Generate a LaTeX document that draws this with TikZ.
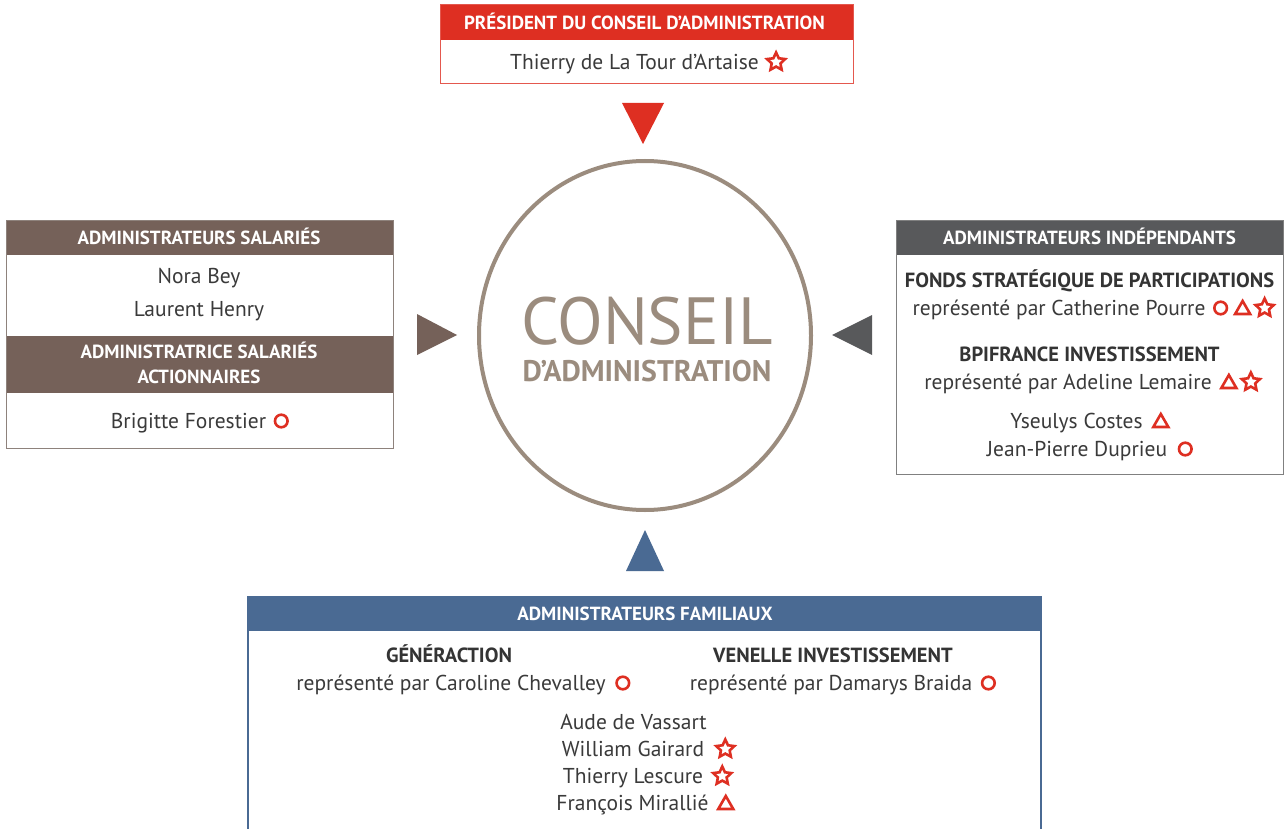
\documentclass[tikz,border=0pt]{standalone}
\usepackage{fontspec}
\setmainfont{PT Sans}
\usetikzlibrary{calc}
\definecolor{cred}{HTML}{DE2F22}
\definecolor{cbrown}{HTML}{756159}
\definecolor{cgray}{HTML}{58595B}
\definecolor{cblue}{HTML}{4A6A93}
\definecolor{ccirc}{HTML}{9B8C7E}
\definecolor{ctext}{HTML}{3A3A3A}
\definecolor{cbord}{HTML}{8E827C}
\tikzset{
  hdr/.style={font=\bfseries\fontsize{19}{21}\selectfont, text=white, inner sep=0pt, text height=13.3pt, text depth=0pt},
  nm/.style={font=\fontsize{21.5}{24}\selectfont, text=ctext, inner sep=0pt, text height=15pt, text depth=0pt},
  org/.style={font=\bfseries\fontsize{20.5}{23}\selectfont, text=ctext!90!black, inner sep=0pt, text height=14.4pt, text depth=0pt},
  sym/.style={draw=cred, line width=2.6pt, line join=miter},
  symO/.pic={\draw[sym] (0,0) circle (6.3);},
  symT/.pic={\draw[sym] (-7.5,6) -- (0,-7) -- (7.5,6) -- cycle;},
  symS/.pic={\draw[sym] (-90:9.5) -- (-54:4.6) -- (-18:9.5) -- (18:4.6) -- (54:9.5) -- (90:4.6) -- (126:9.5) -- (162:4.6) -- (198:9.5) -- (234:4.6) -- cycle;},
}
\begin{document}
\begin{tikzpicture}[x=1pt,y=-1pt]
\useasboundingbox[fill=white] (0,0) rectangle (1285,829);

% ---------- Président
\fill[cred] (440,5) rectangle (853,40);
\draw[cred!80, line width=1pt] (440,5) rectangle (853,84);
\node[hdr] (presh) at (644.5,22.5) {PRÉSIDENT DU CONSEIL D'ADMINISTRATION};
\node[nm] (pres) at (634.5,62) {Thierry de La Tour d'Artaise};
\pic at ($(pres.east)+(17,0)$) {symS};
\fill[cred] (622,103) -- (664,103) -- (643,144) -- cycle;

% ---------- Circle
\draw[ccirc, line width=4pt] (645,335.5) ellipse (166 and 174.5);
\node[font=\fontsize{66.7}{70}\selectfont, text=ccirc, inner sep=0pt, text height=46.7pt, text depth=0pt] (conseil) at (647,321) {CONSEIL};
\node[font=\bfseries\fontsize{29.8}{32}\selectfont, text=ccirc, inner sep=0pt, text height=20.9pt, text depth=0pt] (dadm) at (647,371.5) {D'ADMINISTRATION};

% ---------- Salariés
\fill[cbrown] (6,221) rectangle (393,255);
\fill[cbrown] (6,336) rectangle (393,393);
\draw[cbord, line width=1pt] (6,221) rectangle (393,448);
\node[hdr] (salh) at (199,238) {ADMINISTRATEURS SALARIÉS};
\node[nm] (nora) at (199,276) {Nora Bey};
\node[nm] (laurent) at (199,309) {Laurent Henry};
\node[hdr] (acth1) at (199,352) {ADMINISTRATRICE SALARIÉS};
\node[hdr] (acth2) at (199,377) {ACTIONNAIRES};
\node[nm] (brigitte) at (188.5,421) {Brigitte Forestier};
\pic at ($(brigitte.east)+(15,0)$) {symO};
\fill[cbrown] (417,314) -- (417,355) -- (457,335) -- cycle;

% ---------- Indépendants
\fill[cgray] (896,221) rectangle (1283,255);
\draw[gray, line width=1pt] (896,221) rectangle (1283,474);
\node[hdr] (indh) at (1089.5,238) {ADMINISTRATEURS INDÉPENDANTS};
\node[org] (fsp) at (1089.5,280) {FONDS STRATÉGIQUE DE PARTICIPATIONS};
\node[nm] (pourre) at (1059,308) {représenté par Catherine Pourre};
\pic at ($(pourre.east)+(15,0)$) {symO};
\pic at ($(pourre.east)+(37,0)$) {symT};
\pic at ($(pourre.east)+(59,0)$) {symS};
\node[org] (bpi) at (1089.5,354) {BPIFRANCE INVESTISSEMENT};
\node[nm] (lemaire) at (1068,382) {représenté par Adeline Lemaire};
\pic at ($(lemaire.east)+(17,0)$) {symT};
\pic at ($(lemaire.east)+(39,0)$) {symS};
\node[nm] (costes) at (1076.5,421) {Yseulys Costes};
\pic at ($(costes.east)+(18,0)$) {symT};
\node[nm] (duprieu) at (1077,449) {Jean-Pierre Duprieu};
\pic at ($(duprieu.east)+(18,0)$) {symO};
\fill[cgray] (872,315) -- (872,355) -- (832,335) -- cycle;

% ---------- Familiaux
\fill[cblue] (626,571) -- (664,571) -- (645,530) -- cycle;
\fill[cblue] (248,597) rectangle (1041,631);
\draw[cblue, line width=1.2pt] (248,829) -- (248,597) -- (1041,597) -- (1041,829);
\node[hdr] (famh) at (645,614) {ADMINISTRATEURS FAMILIAUX};
\node[org] (gen) at (449,655) {GÉNÉRACTION};
\node[nm] (chevalley) at (451,683) {représenté par Caroline Chevalley};
\pic at ($(chevalley.east)+(17,0)$) {symO};
\node[org] (venelle) at (833,655) {VENELLE INVESTISSEMENT};
\node[nm] (braida) at (831,683) {représenté par Damarys Braida};
\pic at ($(braida.east)+(16,0)$) {symO};
\node[nm] (aude) at (633.5,722) {Aude de Vassart};
\node[nm] (william) at (633,749) {William Gairard};
\pic at ($(william.east)+(21,0)$) {symS};
\node[nm] (lescure) at (633,776) {Thierry Lescure};
\pic at ($(lescure.east)+(19,0)$) {symS};
\node[nm] (francois) at (632.5,803) {François Mirallié};
\pic at ($(francois.east)+(17,0)$) {symT};
\end{tikzpicture}
\end{document}
